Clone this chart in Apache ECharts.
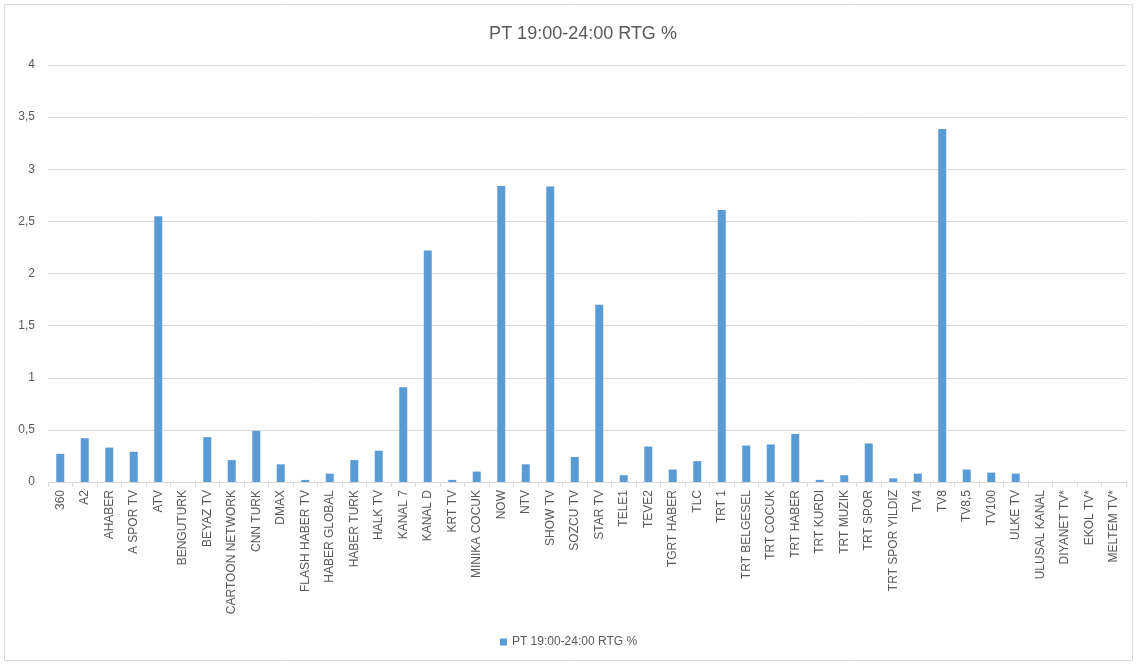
<!DOCTYPE html>
<html>
<head>
<meta charset="utf-8">
<script src="https://cdn.jsdelivr.net/npm/echarts@6/dist/echarts.min.js"></script>
<style>
html,body{margin:0;padding:0;background:#fff;}
#c{width:1137px;height:666px;}
</style>
</head>
<body>
<div id="c"></div>
<script>
const categories = ["360","A2","AHABER","A SPOR TV","ATV","BENGUTURK","BEYAZ TV","CARTOON NETWORK","CNN TURK","DMAX",
"FLASH HABER TV","HABER GLOBAL","HABER TURK","HALK TV","KANAL 7","KANAL D","KRT TV","MINIKA COCUK","NOW","NTV",
"SHOW TV","SOZCU TV","STAR TV","TELE1","TEVE2","TGRT HABER","TLC","TRT 1","TRT BELGESEL","TRT COCUK",
"TRT HABER","TRT KURDI","TRT MUZIK","TRT SPOR","TRT SPOR YILDIZ","TV4","TV8","TV8,5","TV100","ULKE TV",
"ULUSAL KANAL","DIYANET TV*","EKOL TV*","MELTEM TV*"];
const values = [0.27,0.42,0.33,0.29,2.55,0,0.43,0.21,0.49,0.17,
0.02,0.08,0.21,0.30,0.91,2.22,0.02,0.10,2.84,0.17,
2.835,0.24,1.70,0.065,0.34,0.12,0.20,2.61,0.35,0.36,
0.46,0.02,0.065,0.37,0.035,0.08,3.385,0.12,0.09,0.08,
0,0,0,0];
const seriesName = "PT 19:00-24:00 RTG %";
const yTicks = [0,0.5,1,1.5,2,2.5,3,3.5,4];

const chart = echarts.init(document.getElementById('c'));
const font = "Liberation Sans";
chart.setOption({
  animation:false,
  backgroundColor:'#fff',
  graphic:[{type:'rect',shape:{x:4.5,y:4.5,width:1128,height:656},style:{fill:'none',stroke:'#d9d9d9',lineWidth:1},silent:true}],
  title:{text:seriesName,left:578,textAlign:'center',top:20,textStyle:{fontFamily:font,fontSize:18,fontWeight:'normal',color:'#595959'}},
  legend:{bottom:13,left:'center',itemWidth:7,itemHeight:7,icon:'rect',textStyle:{fontFamily:font,fontSize:12,color:'#595959'},data:[seriesName]},
  grid:{left:48,right:11,top:65,bottom:184,containLabel:false},
  xAxis:{type:'category',data:categories,
    axisLine:{lineStyle:{color:'#d9d9d9',width:1}},
    axisTick:{show:true,alignWithLabel:false,length:5,lineStyle:{color:'#d9d9d9'}},
    axisLabel:{rotate:90,interval:0,fontFamily:font,fontSize:12,color:'#595959',margin:8}},
  yAxis:{type:'value',min:0,max:4,interval:0.5,
    axisLine:{show:false},axisTick:{show:false},
    splitLine:{lineStyle:{color:'#d9d9d9',width:1}},
    axisLabel:{fontFamily:font,fontSize:12,color:'#595959',margin:13,formatter:v=>String(v).replace('.',',')}},
  series:[{name:seriesName,type:'bar',data:values,barWidth:8,itemStyle:{color:'#5b9bd5'}}]
});
</script>
</body>
</html>
